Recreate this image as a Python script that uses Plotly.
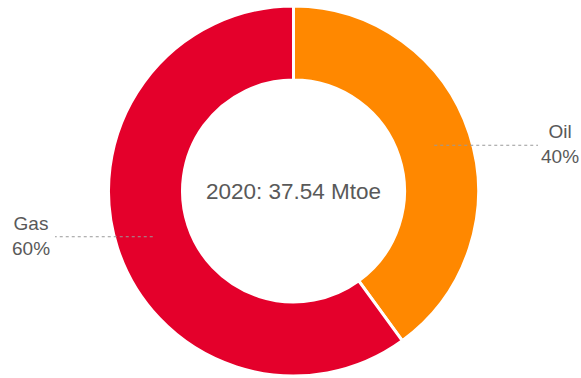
import math
import plotly.graph_objects as go

labels = ["Oil", "Gas"]
values = [40, 60]
colors = ["#FF8800", "#E4002B"]
center_text = "2020: 37.54 Mtoe"

W, H = 581, 378
ml, mr, mt, mb = 6, 0, 6, 2
hole = 0.6
pw, ph = W - ml - mr, H - mt - mb
R = min(pw, ph) / 2
cx, cy = ml + pw / 2, mt + ph / 2


def to_paper(px, py):
    return (px - ml) / pw, (H - mb - py) / ph


fig = go.Figure(go.Pie(
    labels=labels, values=values, hole=hole, sort=False, direction="clockwise",
    rotation=0, marker=dict(colors=colors, line=dict(color="white", width=3)),
    textinfo="none", hoverinfo="label+percent", showlegend=False,
    domain=dict(x=[0, 1], y=[0, 1]),
))

total = sum(values)
shapes, annotations = [], []
cum = 0
rmid = R * (1 + hole) / 2
for lab, v in zip(labels, values):
    mid = (cum + v / 2) / total * 2 * math.pi
    cum += v
    sx = cx + rmid * math.sin(mid)
    sy = cy - rmid * math.cos(mid)
    right = math.sin(mid) > 0
    ex = cx + (244.5 if right else -238.5)
    x0, y0 = to_paper(sx, sy)
    x1, y1 = to_paper(ex, sy)
    shapes.append(dict(type="line", xref="paper", yref="paper", x0=x0, y0=y0, x1=x1, y1=y0,
                       line=dict(color="#999999", width=1, dash="dot"), layer="above"))
    tx, _ = to_paper(ex + (22 if right else -24), sy)
    annotations.append(dict(xref="paper", yref="paper", x=tx, y=y0 + 1 / ph, xanchor="center", yanchor="middle",
                            text=f"{lab}<br>{round(v / total * 100)}%", showarrow=False, align="center",
                            font=dict(size=19, color="#595959", family="Liberation Sans, Arial")))

annotations.append(dict(xref="paper", yref="paper", x=0.5, y=0.5, xanchor="center", yanchor="middle",
                        text=center_text, showarrow=False,
                        font=dict(size=22.5, color="#595959", family="Liberation Sans, Arial")))

fig.update_layout(width=W, height=H, margin=dict(l=ml, r=mr, t=mt, b=mb),
                  paper_bgcolor="white", plot_bgcolor="white",
                  shapes=shapes, annotations=annotations)
fig.write_html("out.html", config={"displayModeBar": False},
               post_script="document.body.style.margin='0';")
